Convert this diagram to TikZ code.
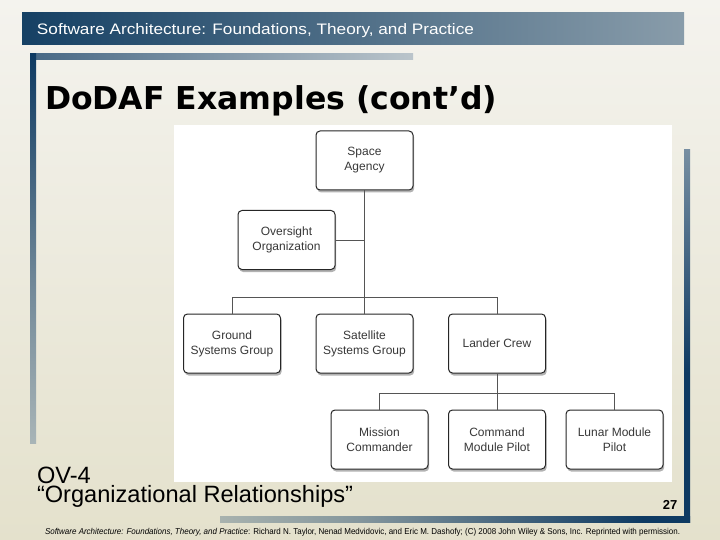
\documentclass[tikz,border=0pt]{standalone}
\usepackage{fontspec}
\usepackage{graphicx}
\setmainfont{Liberation Sans}
\newfontfamily\titlefont{DejaVu Sans}
\usetikzlibrary{shadows}
\definecolor{bgtop}{HTML}{F4F3EE}
\definecolor{bgbot}{HTML}{E4E1CC}
\definecolor{bgmid}{HTML}{ECEADC}
\definecolor{hblue}{HTML}{0F3B60}
\definecolor{hgray}{HTML}{C2CACD}
\definecolor{fblue}{HTML}{0E3A62}
\definecolor{linecol}{HTML}{555555}
\pgfdeclarehorizontalshading{hdrshade}{100bp}{color(0bp)=(hblue); color(22bp)=(hblue); color(100bp)=(hgray)}
\pgfdeclarehorizontalshading{topbarshade}{100bp}{color(0bp)=(fblue); color(35bp)=(fblue!65!bgtop); color(100bp)=(bgtop)}
\pgfdeclarehorizontalshading{botbarshade}{100bp}{color(0bp)=(bgbot); color(40bp)=(fblue!45!bgbot); color(70bp)=(fblue); color(100bp)=(fblue)}
\pgfdeclareverticalshading{leftbarshade}{100bp}{color(0bp)=(bgmid); color(45bp)=(fblue!55!bgmid); color(75bp)=(fblue); color(100bp)=(fblue)}
\pgfdeclareverticalshading{rightbarshade}{100bp}{color(0bp)=(fblue); color(45bp)=(fblue); color(78bp)=(fblue!50!bgtop); color(100bp)=(bgtop)}
\tikzset{
  orgbox/.style={draw=black!85, line width=1pt, rounded corners=4pt, fill=white,
    minimum width=97pt, minimum height=59pt, align=center, inner sep=2pt,
    font=\fontsize{12}{15}\selectfont, text=black!78,
    drop shadow={shadow xshift=1.2pt, shadow yshift=-2.5pt, fill=black, opacity=0.3}},
  conn/.style={draw=linecol, line width=0.9pt},
  plaintext/.style={inner sep=0pt, outer sep=0pt}
}
\begin{document}
\begin{tikzpicture}[x=1pt,y=-1pt]
\useasboundingbox (0,0) rectangle (720,540);
% background
\shade[top color=bgtop, bottom color=bgbot] (0,0) rectangle (720,540);
% header bar
\shade[shading=hdrshade] (22,13) rectangle (684,45);
\node[plaintext, anchor=base west, text=white] (hdr) at (37,34.5) {\resizebox{437pt}{11pt}{\fontsize{15}{17}\selectfont Software Architecture: Foundations, Theory, and Practice}};
% frame bars
\shade[shading=topbarshade] (30,54) rectangle (413,60);
\shade[shading=leftbarshade] (30,54) rectangle (36,443);
\shade[shading=rightbarshade] (684,150) rectangle (690,522);
\shade[shading=botbarshade] (220,516) rectangle (690,522);
% title
\node[plaintext, anchor=base west, font=\titlefont\bfseries\fontsize{31.5}{36}\selectfont] (title) at (45,110) {DoDAF Examples (cont’d)};
% white panel
\fill[white] (174,125) rectangle (672,482);
% boxes
\node[orgbox] (sa) at (364.5,160.5) {Space\\Agency};
\node[orgbox] (ov) at (286.5,240) {Oversight\\Organization};
\node[orgbox] (gs) at (232,343.5) {Ground\\Systems Group};
\node[orgbox] (ss) at (364.5,343.5) {Satellite\\Systems Group};
\node[orgbox] (lc) at (497,343.5) {Lander Crew};
\node[orgbox] (mc) at (379.5,439.5) {Mission\\Commander};
\node[orgbox] (cm) at (497,439.5) {Command\\Module Pilot};
\node[orgbox] (lp) at (614.5,439.5) {Lunar Module\\Pilot};
% bus coordinates
\coordinate (busA) at (0,297);
\coordinate (busB) at (0,393.5);
% connectors
\draw[conn] (sa.south) -- (ss.north);
\draw[conn] (ov.east) -- (ov.east -| sa.south);
\draw[conn] (gs.north) |- (busA -| lc.north) -- (lc.north);
\draw[conn] (lc.south) -- (cm.north);
\draw[conn] (mc.north) |- (busB -| lp.north) -- (lp.north);
% bottom texts
\node[plaintext, anchor=base west, font=\fontsize{23.6}{19}\selectfont] (ov4) at (37,483) {\lineskiplimit=-30pt\vtop{\hbox{OV-4}\hbox{“Organizational Relationships”}}};
\node[plaintext, anchor=base east, font=\bfseries\fontsize{13}{15}\selectfont] (pagenum) at (677.3,509) {27};
\node[plaintext, anchor=base west] (footer) at (45,534) {\resizebox{635pt}{6.2pt}{\fontsize{8}{9}\selectfont\textit{Software Architecture: Foundations, Theory, and Practice}: Richard N. Taylor, Nenad Medvidovic, and Eric M. Dashofy; (C) 2008 John Wiley \& Sons, Inc. Reprinted with permission.}};
\end{tikzpicture}
\end{document}
